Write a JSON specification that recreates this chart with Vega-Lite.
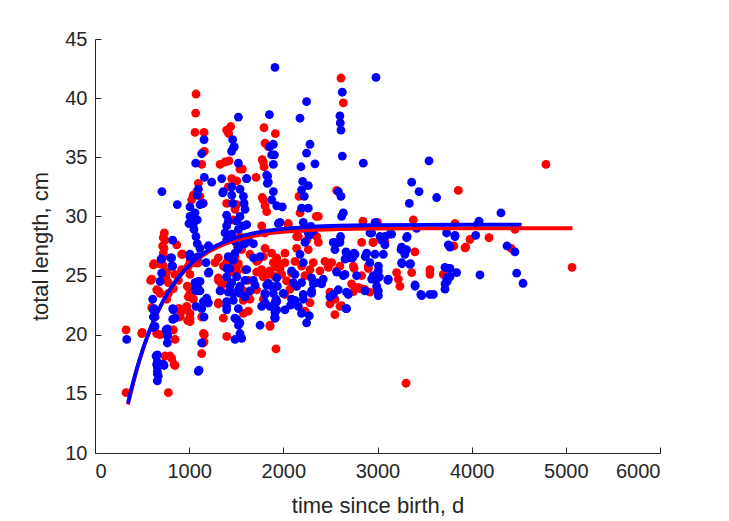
{
  "$schema": "https://vega.github.io/schema/vega-lite/v6.json",
  "width": 565,
  "height": 414,
  "autosize": {"type": "none"},
  "padding": {"left": 95, "top": 39, "right": 69, "bottom": 68},
  "background": "white",
  "config": {
    "view": {"stroke": null},
    "axis": {
      "grid": false,
      "domainColor": "#262626",
      "tickColor": "#262626",
      "labelColor": "#262626",
      "titleColor": "#262626",
      "labelFont": "Liberation Sans",
      "titleFont": "Liberation Sans",
      "labelFontSize": 20,
      "titleFontSize": 22,
      "titleFontWeight": "normal",
      "domainWidth": 1,
      "tickWidth": 1,
      "tickSize": -6
    }
  },
  "datasets": {
    "pts": [
      {"t":330,"L":20.4,"g":"red"},{"t":330,"L":15.1,"g":"red"},{"t":496,"L":20.1,"g":"red"},{"t":602,"L":24.7,"g":"red"},{"t":620,"L":25.9,"g":"red"},{"t":602,"L":22.3,"g":"red"},{"t":655,"L":23.8,"g":"red"},{"t":690,"L":23.5,"g":"red"},{"t":655,"L":20.1,"g":"red"},{"t":690,"L":20.0,"g":"red"},
      {"t":720,"L":25.9,"g":"red"},{"t":727,"L":26.6,"g":"red"},{"t":733,"L":27.3,"g":"red"},{"t":744,"L":28.0,"g":"red"},{"t":736,"L":28.6,"g":"red"},{"t":761,"L":25.3,"g":"red"},{"t":754,"L":24.8,"g":"red"},{"t":673,"L":23.7,"g":"red"},{"t":779,"L":23.5,"g":"red"},{"t":761,"L":23.0,"g":"red"},
      {"t":797,"L":18.2,"g":"red"},{"t":850,"L":17.4,"g":"red"},{"t":779,"L":15.1,"g":"red"},{"t":832,"L":20.4,"g":"red"},{"t":850,"L":19.6,"g":"red"},{"t":868,"L":27.6,"g":"red"},{"t":931,"L":26.8,"g":"red"},{"t":896,"L":22.2,"g":"red"},{"t":903,"L":21.6,"g":"red"},{"t":967,"L":22.2,"g":"red"},
      {"t":984,"L":21.2,"g":"red"},{"t":725,"L":28.2,"g":"red"},{"t":718,"L":27.5,"g":"red"},{"t":725,"L":26.9,"g":"red"},{"t":626,"L":26.0,"g":"red"},{"t":683,"L":26.0,"g":"red"},{"t":591,"L":24.6,"g":"red"},{"t":920,"L":26.8,"g":"red"},{"t":920,"L":25.5,"g":"red"},{"t":849,"L":25.1,"g":"red"},
      {"t":1009,"L":26.2,"g":"red"},{"t":1086,"L":26.05,"g":"red"},{"t":980,"L":24.1,"g":"red"},{"t":1009,"L":23.5,"g":"red"},{"t":885,"L":24.6,"g":"red"},{"t":832,"L":23.9,"g":"red"},{"t":779,"L":24.4,"g":"red"},{"t":502,"L":20.2,"g":"red"},{"t":885,"L":22.2,"g":"red"},{"t":973,"L":22.2,"g":"red"},
      {"t":902,"L":21.5,"g":"red"},{"t":1009,"L":21.1,"g":"red"},{"t":1009,"L":21.8,"g":"red"},{"t":796,"L":20.4,"g":"red"},{"t":743,"L":18.2,"g":"red"},{"t":814,"L":18.0,"g":"red"},{"t":839,"L":17.5,"g":"red"},{"t":1150,"L":19.3,"g":"red"},{"t":1133,"L":18.4,"g":"red"},{"t":1161,"L":20.0,"g":"red"},
      {"t":1310,"L":24.6,"g":"red"},{"t":1334,"L":23.7,"g":"red"},{"t":1310,"L":22.6,"g":"red"},{"t":1044,"L":31.8,"g":"red"},{"t":1026,"L":31.4,"g":"red"},{"t":1115,"L":31.7,"g":"red"},{"t":1150,"L":31.1,"g":"red"},{"t":991,"L":25.8,"g":"red"},{"t":1045,"L":26.1,"g":"red"},{"t":1098,"L":26.1,"g":"red"},
      {"t":1009,"L":25.1,"g":"red"},{"t":1009,"L":23.8,"g":"red"},{"t":991,"L":23.2,"g":"red"},{"t":1045,"L":23.0,"g":"red"},{"t":974,"L":22.4,"g":"red"},{"t":938,"L":22.1,"g":"red"},{"t":1009,"L":21.4,"g":"red"},{"t":1133,"L":21.5,"g":"red"},{"t":1151,"L":20.1,"g":"red"},{"t":1158,"L":19.4,"g":"red"},
      {"t":1073,"L":40.35,"g":"red"},{"t":1069,"L":38.74,"g":"red"},{"t":1062,"L":37.1,"g":"red"},{"t":1158,"L":37.1,"g":"red"},{"t":1161,"L":35.5,"g":"red"},{"t":1133,"L":34.4,"g":"red"},{"t":1098,"L":32.8,"g":"red"},{"t":1080,"L":32.1,"g":"red"},{"t":1328,"L":34.4,"g":"red"},{"t":1380,"L":34.6,"g":"red"},
      {"t":1423,"L":34.7,"g":"red"},{"t":1398,"L":37.3,"g":"red"},{"t":1441,"L":37.6,"g":"red"},{"t":1420,"L":37.0,"g":"red"},{"t":1565,"L":34.0,"g":"red"},{"t":1539,"L":34.0,"g":"red"},{"t":1452,"L":33.2,"g":"red"},{"t":1505,"L":33.0,"g":"red"},{"t":1416,"L":32.5,"g":"red"},{"t":1398,"L":31.1,"g":"red"},
      {"t":1487,"L":30.6,"g":"red"},{"t":1505,"L":31.0,"g":"red"},{"t":1469,"L":29.7,"g":"red"},{"t":1540,"L":28.3,"g":"red"},{"t":1512,"L":27.5,"g":"red"},{"t":1710,"L":33.3,"g":"red"},{"t":1795,"L":37.5,"g":"red"},{"t":1915,"L":37.0,"g":"red"},{"t":1788,"L":34.6,"g":"red"},{"t":1795,"L":34.2,"g":"red"},
      {"t":1806,"L":36.2,"g":"red"},{"t":1840,"L":35.9,"g":"red"},{"t":1776,"L":34.8,"g":"red"},{"t":1788,"L":31.4,"g":"red"},{"t":1806,"L":30.9,"g":"red"},{"t":1823,"L":30.4,"g":"red"},{"t":1770,"L":29.2,"g":"red"},{"t":1776,"L":31.6,"g":"red"},{"t":2053,"L":29.4,"g":"red"},{"t":1805,"L":28.6,"g":"red"},
      {"t":2166,"L":31.7,"g":"red"},{"t":2177,"L":30.3,"g":"red"},{"t":2371,"L":30.0,"g":"red"},{"t":2566,"L":32.2,"g":"red"},{"t":2612,"L":41.7,"g":"red"},{"t":2637,"L":39.6,"g":"red"},{"t":1310,"L":24.8,"g":"red"},{"t":1346,"L":24.2,"g":"red"},{"t":1310,"L":22.7,"g":"red"},{"t":1399,"L":24.5,"g":"red"},
      {"t":1363,"L":21.4,"g":"red"},{"t":1399,"L":19.85,"g":"red"},{"t":1452,"L":25.3,"g":"red"},{"t":1505,"L":25.3,"g":"red"},{"t":1487,"L":26.6,"g":"red"},{"t":1452,"L":26.3,"g":"red"},{"t":1505,"L":25.8,"g":"red"},{"t":1576,"L":23.7,"g":"red"},{"t":1646,"L":23.0,"g":"red"},{"t":1629,"L":22.0,"g":"red"},
      {"t":1576,"L":21.8,"g":"red"},{"t":1717,"L":25.3,"g":"red"},{"t":1770,"L":25.2,"g":"red"},{"t":1841,"L":25.1,"g":"red"},{"t":1788,"L":26.6,"g":"red"},{"t":1806,"L":27.3,"g":"red"},{"t":1894,"L":26.1,"g":"red"},{"t":1930,"L":26.3,"g":"red"},{"t":1965,"L":25.6,"g":"red"},{"t":1646,"L":26.8,"g":"red"},
      {"t":1717,"L":26.2,"g":"red"},{"t":1930,"L":24.9,"g":"red"},{"t":1788,"L":23.0,"g":"red"},{"t":1806,"L":22.7,"g":"red"},{"t":1859,"L":20.7,"g":"red"},{"t":1922,"L":18.8,"g":"red"},{"t":1363,"L":25.8,"g":"red"},{"t":1399,"L":26.1,"g":"red"},{"t":1310,"L":26.5,"g":"red"},{"t":1275,"L":26.1,"g":"red"},
      {"t":1557,"L":27.2,"g":"red"},{"t":1522,"L":26.0,"g":"red"},{"t":1592,"L":25.5,"g":"red"},{"t":1628,"L":24.6,"g":"red"},{"t":1628,"L":23.5,"g":"red"},{"t":1575,"L":22.9,"g":"red"},{"t":1734,"L":26.3,"g":"red"},{"t":1769,"L":25.5,"g":"red"},{"t":1787,"L":24.9,"g":"red"},{"t":1716,"L":23.8,"g":"red"},
      {"t":1876,"L":26.9,"g":"red"},{"t":1946,"L":25.8,"g":"red"},{"t":2017,"L":26.9,"g":"red"},{"t":1911,"L":24.9,"g":"red"},{"t":2088,"L":25.2,"g":"red"},{"t":2141,"L":24.1,"g":"red"},{"t":2159,"L":28.3,"g":"red"},{"t":2354,"L":28.3,"g":"red"},{"t":2601,"L":28.0,"g":"red"},{"t":2141,"L":27.3,"g":"red"},
      {"t":2265,"L":27.2,"g":"red"},{"t":1929,"L":26.5,"g":"red"},{"t":2017,"L":26.1,"g":"red"},{"t":1929,"L":25.7,"g":"red"},{"t":1858,"L":25.4,"g":"red"},{"t":1982,"L":25.1,"g":"red"},{"t":2124,"L":26.2,"g":"red"},{"t":2194,"L":25.8,"g":"red"},{"t":2283,"L":25.5,"g":"red"},{"t":2318,"L":26.1,"g":"red"},
      {"t":2389,"L":25.4,"g":"red"},{"t":2442,"L":26.2,"g":"red"},{"t":2478,"L":25.7,"g":"red"},{"t":2513,"L":26.1,"g":"red"},{"t":2566,"L":25.4,"g":"red"},{"t":2601,"L":25.8,"g":"red"},{"t":2230,"L":25.0,"g":"red"},{"t":2035,"L":24.55,"g":"red"},{"t":2070,"L":23.85,"g":"red"},{"t":2017,"L":23.4,"g":"red"},
      {"t":2283,"L":22.7,"g":"red"},{"t":2230,"L":22.0,"g":"red"},{"t":1858,"L":20.8,"g":"red"},{"t":2495,"L":23.6,"g":"red"},{"t":2548,"L":23.0,"g":"red"},{"t":2495,"L":22.6,"g":"red"},{"t":2548,"L":21.7,"g":"red"},{"t":2619,"L":22.45,"g":"red"},{"t":2743,"L":25.8,"g":"red"},{"t":2725,"L":24.3,"g":"red"},
      {"t":2796,"L":24.0,"g":"red"},{"t":2849,"L":23.85,"g":"red"},{"t":2832,"L":27.8,"g":"red"},{"t":2902,"L":25.8,"g":"red"},{"t":2920,"L":23.6,"g":"red"},{"t":2955,"L":27.8,"g":"red"},{"t":3079,"L":27.9,"g":"red"},{"t":3203,"L":25.25,"g":"red"},{"t":3221,"L":24.7,"g":"red"},{"t":3238,"L":24.1,"g":"red"},
      {"t":3363,"L":25.25,"g":"red"},{"t":3398,"L":27.0,"g":"red"},{"t":3557,"L":25.5,"g":"red"},{"t":3557,"L":25.1,"g":"red"},{"t":3699,"L":25.1,"g":"red"},{"t":3770,"L":27.5,"g":"red"},{"t":3929,"L":27.35,"g":"red"},{"t":3982,"L":28.05,"g":"red"},{"t":3303,"L":15.9,"g":"red"},{"t":2845,"L":29.6,"g":"red"},
      {"t":3000,"L":29.5,"g":"red"},{"t":3380,"L":29.7,"g":"red"},{"t":2050,"L":29.3,"g":"red"},{"t":2184,"L":31.8,"g":"red"},{"t":2350,"L":30.0,"g":"red"},{"t":2142,"L":28.3,"g":"red"},{"t":2250,"L":28.0,"g":"red"},{"t":2372,"L":27.8,"g":"red"},{"t":2952,"L":27.8,"g":"red"},{"t":3858,"L":32.2,"g":"red"},
      {"t":3823,"L":29.4,"g":"red"},{"t":2903,"L":25.6,"g":"red"},{"t":2751,"L":25.6,"g":"red"},{"t":2832,"L":25.0,"g":"red"},{"t":2868,"L":23.8,"g":"red"},{"t":2814,"L":23.9,"g":"red"},{"t":2744,"L":23.65,"g":"red"},{"t":2602,"L":22.4,"g":"red"},{"t":4789,"L":34.4,"g":"red"},{"t":4460,"L":28.9,"g":"red"},
      {"t":3937,"L":27.4,"g":"red"},{"t":4184,"L":28.2,"g":"red"},{"t":3812,"L":27.5,"g":"red"},{"t":4420,"L":27.3,"g":"red"},{"t":5066,"L":25.7,"g":"red"},
      {"t":337,"L":19.6,"g":"blue"},{"t":613,"L":23.0,"g":"blue"},{"t":627,"L":22.2,"g":"blue"},{"t":638,"L":21.5,"g":"blue"},{"t":638,"L":20.7,"g":"blue"},{"t":662,"L":18.3,"g":"blue"},{"t":662,"L":17.7,"g":"blue"},{"t":662,"L":17.3,"g":"blue"},{"t":662,"L":16.7,"g":"blue"},{"t":662,"L":16.1,"g":"blue"},
      {"t":733,"L":17.4,"g":"blue"},{"t":708,"L":26.4,"g":"blue"},{"t":708,"L":25.2,"g":"blue"},{"t":691,"L":24.5,"g":"blue"},{"t":754,"L":20.4,"g":"blue"},{"t":768,"L":19.9,"g":"blue"},{"t":768,"L":19.3,"g":"blue"},{"t":825,"L":28.0,"g":"blue"},{"t":804,"L":26.5,"g":"blue"},{"t":825,"L":25.8,"g":"blue"},
      {"t":825,"L":22.2,"g":"blue"},{"t":850,"L":21.4,"g":"blue"},{"t":1009,"L":26.8,"g":"blue"},{"t":701,"L":26.4,"g":"blue"},{"t":814,"L":26.5,"g":"blue"},{"t":814,"L":25.8,"g":"blue"},{"t":620,"L":22.1,"g":"blue"},{"t":620,"L":21.5,"g":"blue"},{"t":620,"L":20.6,"g":"blue"},{"t":832,"L":22.1,"g":"blue"},
      {"t":825,"L":21.3,"g":"blue"},{"t":768,"L":20.5,"g":"blue"},{"t":768,"L":20.0,"g":"blue"},{"t":648,"L":18.2,"g":"blue"},{"t":655,"L":17.5,"g":"blue"},{"t":662,"L":16.9,"g":"blue"},{"t":672,"L":16.5,"g":"blue"},{"t":725,"L":17.5,"g":"blue"},{"t":1133,"L":19.3,"g":"blue"},{"t":1097,"L":16.9,"g":"blue"},
      {"t":1398,"L":22.8,"g":"blue"},{"t":1398,"L":22.1,"g":"blue"},{"t":1186,"L":23.1,"g":"blue"},{"t":1196,"L":22.7,"g":"blue"},{"t":1133,"L":22.2,"g":"blue"},{"t":1072,"L":22.4,"g":"blue"},{"t":1062,"L":24.4,"g":"blue"},{"t":1090,"L":24.0,"g":"blue"},{"t":1115,"L":23.7,"g":"blue"},{"t":1080,"L":23.7,"g":"blue"},
      {"t":1009,"L":30.0,"g":"blue"},{"t":998,"L":29.4,"g":"blue"},{"t":1062,"L":30.3,"g":"blue"},{"t":1086,"L":29.7,"g":"blue"},{"t":1051,"L":28.9,"g":"blue"},{"t":1072,"L":28.3,"g":"blue"},{"t":1086,"L":27.7,"g":"blue"},{"t":1115,"L":27.3,"g":"blue"},{"t":1097,"L":26.6,"g":"blue"},{"t":1207,"L":27.5,"g":"blue"},
      {"t":1009,"L":26.6,"g":"blue"},{"t":1210,"L":25.3,"g":"blue"},{"t":1009,"L":30.8,"g":"blue"},{"t":1115,"L":31.0,"g":"blue"},{"t":1086,"L":31.8,"g":"blue"},{"t":711,"L":32.1,"g":"blue"},{"t":874,"L":31.0,"g":"blue"},{"t":1098,"L":24.5,"g":"blue"},{"t":1115,"L":24.5,"g":"blue"},{"t":1062,"L":23.8,"g":"blue"},
      {"t":1151,"L":22.8,"g":"blue"},{"t":1204,"L":22.7,"g":"blue"},{"t":1158,"L":21.5,"g":"blue"},{"t":1105,"L":17.0,"g":"blue"},{"t":1179,"L":26.1,"g":"blue"},{"t":1204,"L":25.2,"g":"blue"},{"t":1204,"L":27.5,"g":"blue"},{"t":1080,"L":26.5,"g":"blue"},{"t":1158,"L":36.5,"g":"blue"},{"t":1133,"L":35.3,"g":"blue"},
      {"t":1069,"L":34.5,"g":"blue"},{"t":1161,"L":33.3,"g":"blue"},{"t":1239,"L":32.9,"g":"blue"},{"t":1098,"L":32.3,"g":"blue"},{"t":1346,"L":33.2,"g":"blue"},{"t":1356,"L":32.0,"g":"blue"},{"t":1462,"L":36.5,"g":"blue"},{"t":1469,"L":35.8,"g":"blue"},{"t":1450,"L":35.5,"g":"blue"},{"t":1523,"L":38.4,"g":"blue"},
      {"t":1523,"L":34.5,"g":"blue"},{"t":1611,"L":33.2,"g":"blue"},{"t":1452,"L":32.5,"g":"blue"},{"t":1452,"L":31.8,"g":"blue"},{"t":1462,"L":31.1,"g":"blue"},{"t":1363,"L":32.1,"g":"blue"},{"t":1540,"L":32.3,"g":"blue"},{"t":1576,"L":31.7,"g":"blue"},{"t":1583,"L":31.1,"g":"blue"},{"t":1593,"L":30.6,"g":"blue"},
      {"t":1540,"L":30.0,"g":"blue"},{"t":1505,"L":29.6,"g":"blue"},{"t":1523,"L":28.9,"g":"blue"},{"t":1576,"L":29.2,"g":"blue"},{"t":1611,"L":29.3,"g":"blue"},{"t":1398,"L":30.1,"g":"blue"},{"t":1416,"L":29.6,"g":"blue"},{"t":1398,"L":29.2,"g":"blue"},{"t":1381,"L":28.6,"g":"blue"},{"t":1398,"L":28.0,"g":"blue"},
      {"t":1452,"L":28.5,"g":"blue"},{"t":1487,"L":27.9,"g":"blue"},{"t":1593,"L":27.7,"g":"blue"},{"t":1629,"L":28.2,"g":"blue"},{"t":1823,"L":33.5,"g":"blue"},{"t":1830,"L":32.8,"g":"blue"},{"t":1894,"L":32.1,"g":"blue"},{"t":1877,"L":31.4,"g":"blue"},{"t":1930,"L":30.9,"g":"blue"},{"t":1947,"L":29.4,"g":"blue"},
      {"t":1859,"L":35.9,"g":"blue"},{"t":1894,"L":36.1,"g":"blue"},{"t":1877,"L":35.2,"g":"blue"},{"t":1905,"L":35.2,"g":"blue"},{"t":1894,"L":34.4,"g":"blue"},{"t":1852,"L":38.6,"g":"blue"},{"t":1911,"L":42.6,"g":"blue"},{"t":2626,"L":40.5,"g":"blue"},{"t":2247,"L":39.7,"g":"blue"},{"t":2177,"L":38.3,"g":"blue"},
      {"t":2601,"L":38.5,"g":"blue"},{"t":2605,"L":37.9,"g":"blue"},{"t":2612,"L":37.3,"g":"blue"},{"t":1479,"L":35.9,"g":"blue"},{"t":2283,"L":36.1,"g":"blue"},{"t":2247,"L":35.35,"g":"blue"},{"t":2336,"L":34.45,"g":"blue"},{"t":2187,"L":34.2,"g":"blue"},{"t":2626,"L":35.1,"g":"blue"},{"t":1610,"L":33.2,"g":"blue"},
      {"t":1833,"L":33.4,"g":"blue"},{"t":1840,"L":32.9,"g":"blue"},{"t":1989,"L":30.8,"g":"blue"},{"t":2205,"L":32.96,"g":"blue"},{"t":2265,"L":32.6,"g":"blue"},{"t":2194,"L":32.25,"g":"blue"},{"t":2222,"L":31.7,"g":"blue"},{"t":2194,"L":30.7,"g":"blue"},{"t":2265,"L":30.7,"g":"blue"},{"t":2584,"L":32.1,"g":"blue"},
      {"t":2612,"L":31.7,"g":"blue"},{"t":2619,"L":30.0,"g":"blue"},{"t":1964,"L":29.5,"g":"blue"},{"t":2212,"L":29.5,"g":"blue"},{"t":2223,"L":29.0,"g":"blue"},{"t":2293,"L":29.15,"g":"blue"},{"t":2318,"L":28.8,"g":"blue"},{"t":2265,"L":28.6,"g":"blue"},{"t":1145,"L":31.1,"g":"blue"},{"t":1045,"L":29.4,"g":"blue"},
      {"t":1399,"L":25.6,"g":"blue"},{"t":1452,"L":24.4,"g":"blue"},{"t":1416,"L":23.6,"g":"blue"},{"t":1469,"L":23.5,"g":"blue"},{"t":1328,"L":23.7,"g":"blue"},{"t":1487,"L":26.9,"g":"blue"},{"t":1523,"L":27.3,"g":"blue"},{"t":1576,"L":27.7,"g":"blue"},{"t":1611,"L":28.0,"g":"blue"},{"t":1682,"L":27.7,"g":"blue"},
      {"t":1682,"L":26.5,"g":"blue"},{"t":1753,"L":26.6,"g":"blue"},{"t":1611,"L":25.5,"g":"blue"},{"t":1593,"L":24.6,"g":"blue"},{"t":1505,"L":24.9,"g":"blue"},{"t":1540,"L":24.1,"g":"blue"},{"t":1540,"L":23.5,"g":"blue"},{"t":1593,"L":23.2,"g":"blue"},{"t":1505,"L":21.3,"g":"blue"},{"t":1523,"L":20.8,"g":"blue"},
      {"t":1540,"L":20.1,"g":"blue"},{"t":1558,"L":19.7,"g":"blue"},{"t":1487,"L":19.6,"g":"blue"},{"t":1700,"L":24.2,"g":"blue"},{"t":1823,"L":24.2,"g":"blue"},{"t":1877,"L":24.1,"g":"blue"},{"t":1894,"L":23.5,"g":"blue"},{"t":1930,"L":22.8,"g":"blue"},{"t":1770,"L":22.4,"g":"blue"},{"t":1753,"L":20.8,"g":"blue"},
      {"t":1806,"L":23.4,"g":"blue"},{"t":1806,"L":22.7,"g":"blue"},{"t":1930,"L":22.1,"g":"blue"},{"t":1912,"L":21.4,"g":"blue"},{"t":1646,"L":23.7,"g":"blue"},{"t":1682,"L":24.6,"g":"blue"},{"t":1930,"L":24.8,"g":"blue"},{"t":1415,"L":26.6,"g":"blue"},{"t":1468,"L":26.3,"g":"blue"},{"t":1433,"L":25.6,"g":"blue"},
      {"t":1398,"L":24.9,"g":"blue"},{"t":1433,"L":24.1,"g":"blue"},{"t":1522,"L":23.8,"g":"blue"},{"t":1468,"L":22.9,"g":"blue"},{"t":1398,"L":22.4,"g":"blue"},{"t":1522,"L":22.2,"g":"blue"},{"t":1486,"L":21.4,"g":"blue"},{"t":1539,"L":21.0,"g":"blue"},{"t":1840,"L":24.35,"g":"blue"},{"t":1805,"L":23.5,"g":"blue"},
      {"t":1911,"L":22.7,"g":"blue"},{"t":1999,"L":23.5,"g":"blue"},{"t":1858,"L":22.4,"g":"blue"},{"t":1911,"L":21.5,"g":"blue"},{"t":2017,"L":22.1,"g":"blue"},{"t":2123,"L":22.9,"g":"blue"},{"t":2194,"L":21.8,"g":"blue"},{"t":2247,"L":21.0,"g":"blue"},{"t":2300,"L":23.5,"g":"blue"},{"t":2276,"L":28.4,"g":"blue"},
      {"t":2230,"L":27.8,"g":"blue"},{"t":2177,"L":26.8,"g":"blue"},{"t":2212,"L":26.1,"g":"blue"},{"t":2088,"L":25.4,"g":"blue"},{"t":2124,"L":25.1,"g":"blue"},{"t":2106,"L":24.4,"g":"blue"},{"t":2141,"L":24.1,"g":"blue"},{"t":2194,"L":24.4,"g":"blue"},{"t":2300,"L":24.8,"g":"blue"},{"t":2318,"L":24.3,"g":"blue"},
      {"t":2354,"L":24.4,"g":"blue"},{"t":2424,"L":24.7,"g":"blue"},{"t":2407,"L":24.3,"g":"blue"},{"t":2300,"L":23.7,"g":"blue"},{"t":2212,"L":23.4,"g":"blue"},{"t":2212,"L":23.0,"g":"blue"},{"t":2088,"L":23.0,"g":"blue"},{"t":2077,"L":22.5,"g":"blue"},{"t":2159,"L":22.4,"g":"blue"},{"t":2276,"L":21.6,"g":"blue"},
      {"t":1922,"L":23.0,"g":"blue"},{"t":1911,"L":21.9,"g":"blue"},{"t":1911,"L":21.4,"g":"blue"},{"t":1936,"L":24.1,"g":"blue"},{"t":2566,"L":25.3,"g":"blue"},{"t":2637,"L":25.0,"g":"blue"},{"t":2672,"L":23.6,"g":"blue"},{"t":2672,"L":22.2,"g":"blue"},{"t":2584,"L":23.8,"g":"blue"},{"t":2531,"L":23.4,"g":"blue"},
      {"t":2495,"L":23.2,"g":"blue"},{"t":2566,"L":27.8,"g":"blue"},{"t":2601,"L":27.8,"g":"blue"},{"t":2548,"L":27.2,"g":"blue"},{"t":2672,"L":26.9,"g":"blue"},{"t":2761,"L":26.8,"g":"blue"},{"t":2655,"L":26.4,"g":"blue"},{"t":2778,"L":25.0,"g":"blue"},{"t":2885,"L":26.9,"g":"blue"},{"t":2920,"L":26.1,"g":"blue"},
      {"t":2973,"L":26.8,"g":"blue"},{"t":3062,"L":26.8,"g":"blue"},{"t":3009,"L":25.4,"g":"blue"},{"t":2991,"L":24.7,"g":"blue"},{"t":2991,"L":24.1,"g":"blue"},{"t":3009,"L":23.7,"g":"blue"},{"t":3009,"L":23.3,"g":"blue"},{"t":2938,"L":24.7,"g":"blue"},{"t":2867,"L":23.7,"g":"blue"},{"t":3115,"L":24.7,"g":"blue"},
      {"t":3026,"L":28.3,"g":"blue"},{"t":3079,"L":28.3,"g":"blue"},{"t":3132,"L":28.5,"g":"blue"},{"t":3256,"L":27.4,"g":"blue"},{"t":3274,"L":27.1,"g":"blue"},{"t":3309,"L":27.2,"g":"blue"},{"t":3256,"L":26.1,"g":"blue"},{"t":3345,"L":25.95,"g":"blue"},{"t":3309,"L":28.2,"g":"blue"},{"t":2920,"L":28.6,"g":"blue"},
      {"t":3398,"L":24.2,"g":"blue"},{"t":3469,"L":23.3,"g":"blue"},{"t":3557,"L":23.4,"g":"blue"},{"t":3593,"L":23.4,"g":"blue"},{"t":3717,"L":25.7,"g":"blue"},{"t":3734,"L":24.8,"g":"blue"},{"t":3717,"L":24.3,"g":"blue"},{"t":3717,"L":23.85,"g":"blue"},{"t":3840,"L":25.25,"g":"blue"},{"t":3752,"L":27.6,"g":"blue"},
      {"t":3823,"L":28.3,"g":"blue"},{"t":3734,"L":28.6,"g":"blue"},{"t":2984,"L":41.75,"g":"blue"},{"t":2849,"L":34.5,"g":"blue"},{"t":3547,"L":34.7,"g":"blue"},{"t":3363,"L":32.9,"g":"blue"},{"t":3441,"L":32.1,"g":"blue"},{"t":3628,"L":31.6,"g":"blue"},{"t":3338,"L":31.1,"g":"blue"},{"t":3415,"L":29.0,"g":"blue"},
      {"t":2975,"L":29.5,"g":"blue"},{"t":2995,"L":29.2,"g":"blue"},{"t":2637,"L":30.3,"g":"blue"},{"t":3315,"L":28.3,"g":"blue"},{"t":3250,"L":27.2,"g":"blue"},{"t":3290,"L":26.8,"g":"blue"},{"t":3260,"L":26.0,"g":"blue"},{"t":3350,"L":26.0,"g":"blue"},{"t":2665,"L":27.0,"g":"blue"},{"t":2700,"L":26.5,"g":"blue"},
      {"t":2750,"L":26.9,"g":"blue"},{"t":2735,"L":26.5,"g":"blue"},{"t":2870,"L":26.6,"g":"blue"},{"t":3010,"L":25.8,"g":"blue"},{"t":3020,"L":24.9,"g":"blue"},{"t":3000,"L":23.7,"g":"blue"},{"t":2955,"L":25.0,"g":"blue"},{"t":2655,"L":25.1,"g":"blue"},{"t":2690,"L":23.4,"g":"blue"},{"t":3110,"L":24.6,"g":"blue"},
      {"t":3400,"L":24.1,"g":"blue"},{"t":3460,"L":23.4,"g":"blue"},{"t":3752,"L":25.6,"g":"blue"},{"t":3740,"L":24.5,"g":"blue"},{"t":2938,"L":28.6,"g":"blue"},{"t":3044,"L":28.0,"g":"blue"},{"t":3079,"L":27.6,"g":"blue"},{"t":3150,"L":28.5,"g":"blue"},{"t":2530,"L":27.8,"g":"blue"},{"t":2584,"L":27.8,"g":"blue"},
      {"t":2608,"L":28.3,"g":"blue"},{"t":2665,"L":22.2,"g":"blue"},{"t":4311,"L":30.3,"g":"blue"},{"t":4078,"L":29.6,"g":"blue"},{"t":4060,"L":29.3,"g":"blue"},{"t":3823,"L":28.4,"g":"blue"},{"t":4043,"L":28.4,"g":"blue"},{"t":3770,"L":27.4,"g":"blue"},{"t":4375,"L":27.5,"g":"blue"},{"t":4460,"L":27.0,"g":"blue"},
      {"t":3770,"L":25.6,"g":"blue"},{"t":3770,"L":24.9,"g":"blue"},{"t":4088,"L":25.05,"g":"blue"},{"t":4478,"L":25.2,"g":"blue"},{"t":4545,"L":24.35,"g":"blue"}
    ],
    "fitRed": [
      {"t":350,"L":14.1},{"t":400,"L":15.75},{"t":450,"L":17.22},{"t":500,"L":18.53},{"t":550,"L":19.69},{"t":600,"L":20.72},{"t":700,"L":22.45},{"t":800,"L":23.83},{"t":900,"L":24.91},{"t":1000,"L":25.77},{"t":1100,"L":26.44},{"t":1200,"L":26.98},{"t":1400,"L":27.74},{"t":1600,"L":28.21},{"t":1800,"L":28.51},{"t":2000,"L":28.69},{"t":2300,"L":28.85},{"t":2600,"L":28.92},{"t":3000,"L":28.97},{"t":3500,"L":28.99},{"t":4000,"L":29.0},{"t":4500,"L":29.0},{"t":5070,"L":29.0}
    ],
    "fitBlue": [
      {"t":350,"L":14.2},{"t":400,"L":15.83},{"t":450,"L":17.28},{"t":500,"L":18.57},{"t":550,"L":19.73},{"t":600,"L":20.76},{"t":700,"L":22.5},{"t":800,"L":23.89},{"t":900,"L":24.99},{"t":1000,"L":25.87},{"t":1100,"L":26.57},{"t":1200,"L":27.13},{"t":1400,"L":27.92},{"t":1600,"L":28.43},{"t":1800,"L":28.75},{"t":2000,"L":28.95},{"t":2300,"L":29.12},{"t":2600,"L":29.21},{"t":3000,"L":29.26},{"t":3500,"L":29.29},{"t":4000,"L":29.3},{"t":4530,"L":29.3}
    ]
  },
  "layer": [
    {
      "data": {"name": "pts"},
      "mark": {"type": "point", "shape": "circle", "filled": true, "size": 78, "opacity": 1},
      "encoding": {
        "x": {"field": "t", "type": "quantitative",
              "scale": {"domain": [0, 6000], "nice": false, "zero": false},
              "axis": {"values": [0,1000,2000,3000,4000,5000,6000], "format": "d", "title": "time since birth, d", "labelPadding": 14, "titlePadding": 14}},
        "y": {"field": "L", "type": "quantitative",
              "scale": {"domain": [10, 45], "nice": false, "zero": false},
              "axis": {"values": [10,15,20,25,30,35,40,45], "format": "d", "title": "total length, cm", "labelPadding": 14, "titlePadding": 12}},
        "color": {"field": "g", "type": "nominal",
                  "scale": {"domain": ["red", "blue"], "range": ["#ff0000", "#0000ff"]},
                  "legend": null}
      }
    },
    {
      "data": {"name": "fitRed"},
      "mark": {"type": "line", "color": "#ff0000", "strokeWidth": 3.8, "interpolate": "monotone"},
      "encoding": {
        "x": {"field": "t", "type": "quantitative"},
        "y": {"field": "L", "type": "quantitative"}
      }
    },
    {
      "data": {"name": "fitBlue"},
      "mark": {"type": "line", "color": "#0000ff", "strokeWidth": 3.8, "interpolate": "monotone"},
      "encoding": {
        "x": {"field": "t", "type": "quantitative"},
        "y": {"field": "L", "type": "quantitative"}
      }
    }
  ]
}
